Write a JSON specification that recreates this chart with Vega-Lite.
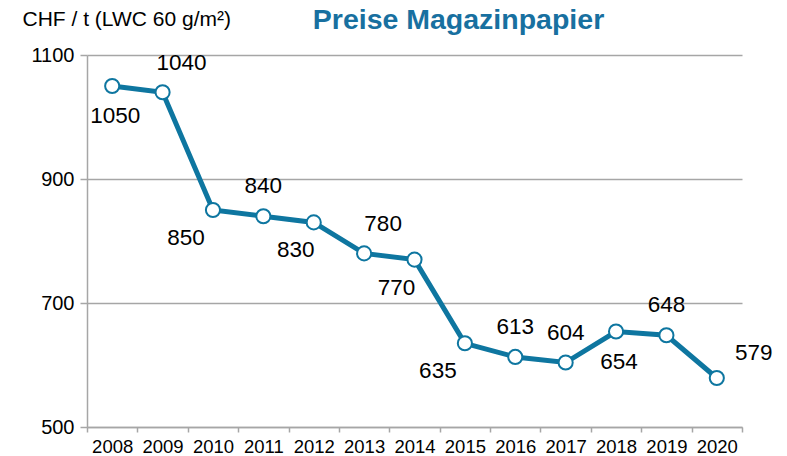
{
  "$schema": "https://vega.github.io/schema/vega-lite/v6.json",
  "width": 655,
  "height": 372,
  "autosize": "none",
  "padding": {"left": 87, "top": 55, "right": 45, "bottom": 29},
  "background": "white",
  "config": {
    "view": {"stroke": null},
    "font": "Liberation Sans",
    "axis": {"labelFont": "Liberation Sans", "titleFont": "Liberation Sans", "labelColor": "#000000", "titleColor": "#000000"}
  },
  "title": {
    "text": "Preise Magazinpapier",
    "font": "Liberation Sans",
    "fontSize": 28.5,
    "fontWeight": "bold",
    "color": "#1870A0",
    "anchor": "middle",
    "baseline": "bottom",
    "dx": 44,
    "offset": -55
  },
  "data": {
    "values": [
      {"year": "2008", "price": 1050},
      {"year": "2009", "price": 1040},
      {"year": "2010", "price": 850},
      {"year": "2011", "price": 840},
      {"year": "2012", "price": 830},
      {"year": "2013", "price": 780},
      {"year": "2014", "price": 770},
      {"year": "2015", "price": 635},
      {"year": "2016", "price": 613},
      {"year": "2017", "price": 604},
      {"year": "2018", "price": 654},
      {"year": "2019", "price": 648},
      {"year": "2020", "price": 579}
    ]
  },
  "encoding": {
    "x": {
      "field": "year",
      "type": "ordinal",
      "bandPosition": 0.5,
      "scale": {"type": "band", "paddingInner": 0, "paddingOuter": 0},
      "axis": {
        "title": null,
        "labelAngle": 0,
        "labelFontSize": 18.5,
        "labelPadding": 5,
        "tickBand": "extent",
        "tickSize": 5,
        "tickColor": "#a6a6a6",
        "tickWidth": 1.5,
        "domainColor": "#a6a6a6",
        "domainWidth": 1.5,
        "grid": false
      }
    },
    "y": {
      "field": "price",
      "type": "quantitative",
      "scale": {"domain": [500, 1100], "zero": false, "nice": false},
      "axis": {
        "values": [500, 700, 900, 1100],
        "format": "d",
        "title": "CHF / t (LWC 60 g/m²)",
        "titleAngle": 0,
        "titleAlign": "left",
        "titleBaseline": "alphabetic",
        "titleX": -65,
        "titleY": -30,
        "titleFontSize": 21,
        "titleFontWeight": "normal",
        "labelFontSize": 20,
        "labelPadding": 6,
        "tickSize": 7,
        "tickColor": "#a6a6a6",
        "tickWidth": 1.5,
        "domainColor": "#a6a6a6",
        "domainWidth": 1.5,
        "grid": true,
        "gridColor": "#a6a6a6",
        "gridWidth": 1.5
      }
    }
  },
  "layer": [
    {"mark": {"type": "line", "color": "#0E76A0", "strokeWidth": 5}},
    {"mark": {"type": "point", "shape": "circle", "filled": true, "fill": "white", "stroke": "#0E76A0", "strokeWidth": 2, "size": 200, "opacity": 1}},
    {
      "transform": [{"filter": {"field": "year", "oneOf": ["2011", "2016", "2017", "2019"]}}],
      "mark": {"type": "text", "fontSize": 22.5, "baseline": "middle", "align": "center", "dx": 0, "dy": -30},
      "encoding": {"text": {"field": "price", "type": "quantitative"}}
    },
    {
      "transform": [{"filter": {"field": "year", "oneOf": ["2008", "2018"]}}],
      "mark": {"type": "text", "fontSize": 22.5, "baseline": "middle", "align": "center", "dx": 3, "dy": 30},
      "encoding": {"text": {"field": "price", "type": "quantitative"}}
    },
    {
      "transform": [{"filter": {"field": "year", "oneOf": ["2010", "2015"]}}],
      "mark": {"type": "text", "fontSize": 22.5, "baseline": "middle", "align": "center", "dx": -27, "dy": 28},
      "encoding": {"text": {"field": "price", "type": "quantitative"}}
    },
    {
      "transform": [{"filter": {"field": "year", "oneOf": ["2012", "2014"]}}],
      "mark": {"type": "text", "fontSize": 22.5, "baseline": "middle", "align": "center", "dx": -18, "dy": 28},
      "encoding": {"text": {"field": "price", "type": "quantitative"}}
    },
    {
      "transform": [{"filter": {"field": "year", "oneOf": ["2009", "2013"]}}],
      "mark": {"type": "text", "fontSize": 22.5, "baseline": "middle", "align": "center", "dx": 19, "dy": -29},
      "encoding": {"text": {"field": "price", "type": "quantitative"}}
    },
    {
      "transform": [{"filter": {"field": "year", "oneOf": ["2020"]}}],
      "mark": {"type": "text", "fontSize": 22.5, "baseline": "middle", "align": "center", "dx": 37, "dy": -25},
      "encoding": {"text": {"field": "price", "type": "quantitative"}}
    }
  ]
}
